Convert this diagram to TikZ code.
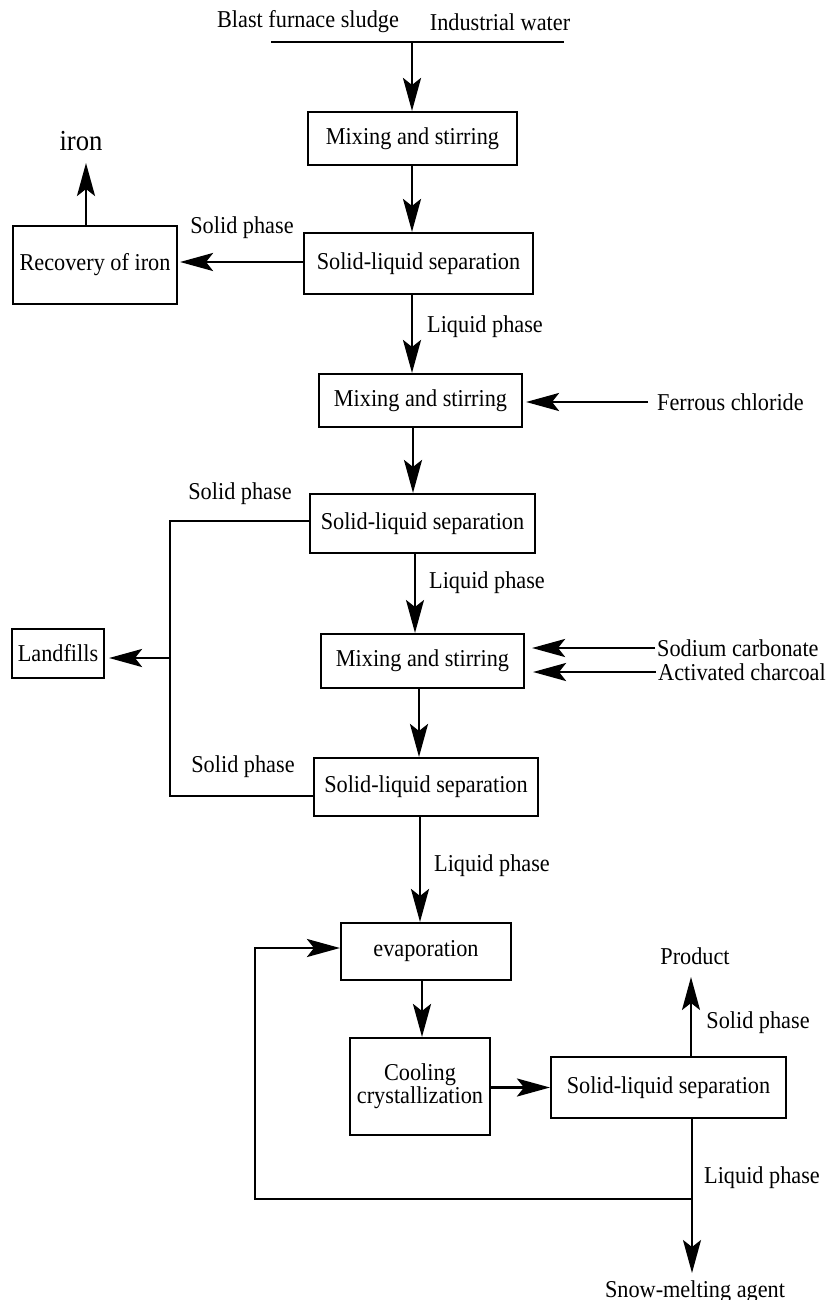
\documentclass[tikz,border=0pt]{standalone}
\usepackage{fontspec}
\setmainfont{Liberation Serif}[FakeStretch=0.92]
\usetikzlibrary{arrows.meta}
\begin{document}
\begin{tikzpicture}[x=1pt,y=-1pt,
  txt/.style={inner sep=0pt,font=\fontsize{24.2}{23}\selectfont},
  box/.style={draw,line width=2.1pt,inner sep=0pt,font=\fontsize{24.2}{23}\selectfont,align=center},
  line/.style={line width=2.8pt},
  arr/.style={line width=2.8pt,-{Stealth[length=33pt,width=18pt,inset=7pt]}},
  tarr/.style={line width=2pt,-{Stealth[length=33pt,width=18pt,inset=7pt]}}]
\useasboundingbox (0,0) rectangle (827,1300);
% boxes
\node[box,minimum width=209pt,minimum height=53pt] (mix1) at (412.5,138.5) {Mixing and stirring};
\node[box,minimum width=229pt,minimum height=61pt] (sep1) at (418.5,263.5) {Solid-liquid separation};
\node[box,minimum width=164pt,minimum height=78pt] (rec) at (95,265) {Recovery of iron};
\node[box,minimum width=203pt,minimum height=53pt] (mix2) at (420.5,400.5) {Mixing and stirring};
\node[box,minimum width=225pt,minimum height=59pt] (sep2) at (422.5,523.5) {Solid-liquid separation};
\node[box,minimum width=203pt,minimum height=54pt] (mix3) at (422.5,661) {Mixing and stirring};
\node[box,minimum width=92pt,minimum height=49pt] (land) at (58,653.5) {Landfills};
\node[box,minimum width=224pt,minimum height=58pt] (sep3) at (426,787) {Solid-liquid separation};
\node[box,minimum width=170pt,minimum height=57pt] (evap) at (426,951.5) {evaporation};
\node[box,minimum width=140pt,minimum height=97pt] (cool) at (420,1086.5) {Cooling\\crystallization};
\node[box,minimum width=235pt,minimum height=61pt] (sep4) at (668.5,1087.5) {Solid-liquid separation};
% texts
\node[txt] (blast) at (308,22) {Blast furnace sludge};
\node[txt] (indw) at (500,22) {Industrial water};
\node[inner sep=0pt,font=\fontsize{29}{30}\selectfont,anchor=base] (iron) at (81,151) {iron};
\node[txt] (sp1) at (242,228) {Solid phase};
\node[txt] (lp1) at (485,327) {Liquid phase};
\node[txt,anchor=west] (ferr) at (657,402) {Ferrous chloride};
\node[txt] (sp2) at (240,494) {Solid phase};
\node[txt] (lp2) at (487,583) {Liquid phase};
\node[txt,anchor=west] (soda) at (657,648) {Sodium carbonate};
\node[txt,anchor=west] (coal) at (658,672) {Activated charcoal};
\node[txt] (sp3) at (243,767) {Solid phase};
\node[txt] (lp3) at (492,866) {Liquid phase};
\node[txt,anchor=base] (prod) at (695,964) {Product};
\node[txt] (sp4) at (758,1023) {Solid phase};
\node[txt] (lp4) at (762,1178) {Liquid phase};
\node[txt,anchor=base] (snow) at (695,1297) {Snow-melting agent};
% helper coordinates
\coordinate (tl) at (271,42);
\coordinate (tr) at (564,42);
\coordinate (top) at (412,42);
\coordinate (x412) at (412,0);
\coordinate (x413) at (413,0);
\coordinate (x415) at (415,0);
\coordinate (x419) at (419,0);
\coordinate (x420) at (420,0);
\coordinate (x422) at (422,0);
\coordinate (x86) at (86,0);
\coordinate (xL) at (170,0);
\coordinate (y262) at (0,262);
\coordinate (y521) at (0,521);
\coordinate (y658) at (0,658);
\coordinate (y796) at (0,796);
\coordinate (x691) at (691,0);
\coordinate (j) at (692,1199);
\coordinate (xfb) at (255,0);
\coordinate (y948) at (0,948);
% connectors
\draw[line] (tl) -- (tr);
\draw[arr] (top) -- (top |- mix1.north);
\draw[arr] (mix1.south -| x412) -- (sep1.north -| x412);
\draw[arr] (sep1.west |- y262) -- ([xshift=2pt]rec.east |- y262);
\draw[arr] (rec.north -| x86) -- ([yshift=-12pt]iron.base -| x86);
\draw[arr] (sep1.south -| x412) -- (mix2.north -| x412);
\draw[arr] ([xshift=-9pt]ferr.west) -- ([xshift=3pt]mix2.east |- ferr.west);
\draw[arr] (mix2.south -| x413) -- (sep2.north -| x413);
\draw[line] (sep2.west |- y521) -- (xL |- y521) -- (xL |- y796) -- (sep3.west |- y796);
\draw[arr,shorten >=4pt] (xL |- y658) -- (land.east |- y658);
\draw[tarr] (sep2.south -| x415) -- (mix3.north -| x415);
\draw[arr] ([xshift=-2pt]soda.west) -- ([xshift=7pt]mix3.east |- soda.west);
\draw[arr] ([xshift=-2pt]coal.west) -- ([xshift=8pt]mix3.east |- coal.west);
\draw[arr] (mix3.south -| x419) -- (sep3.north -| x419);
\draw[arr] (sep3.south -| x420) -- (evap.north -| x420);
\draw[arr] (evap.south -| x422) -- (cool.north -| x422);
\draw[arr] (cool.east |- sep4.west) -- (sep4.west);
\draw[tarr,shorten >=13pt] (sep4.north -| x691) -- (prod.base -| x691);
\draw[tarr] (sep4.south -| j) -- ([yshift=24pt]snow.base -| j);
\draw[arr] (j) -- (xfb |- j) -- (xfb |- y948) -- (evap.west |- y948);
\end{tikzpicture}
\end{document}
